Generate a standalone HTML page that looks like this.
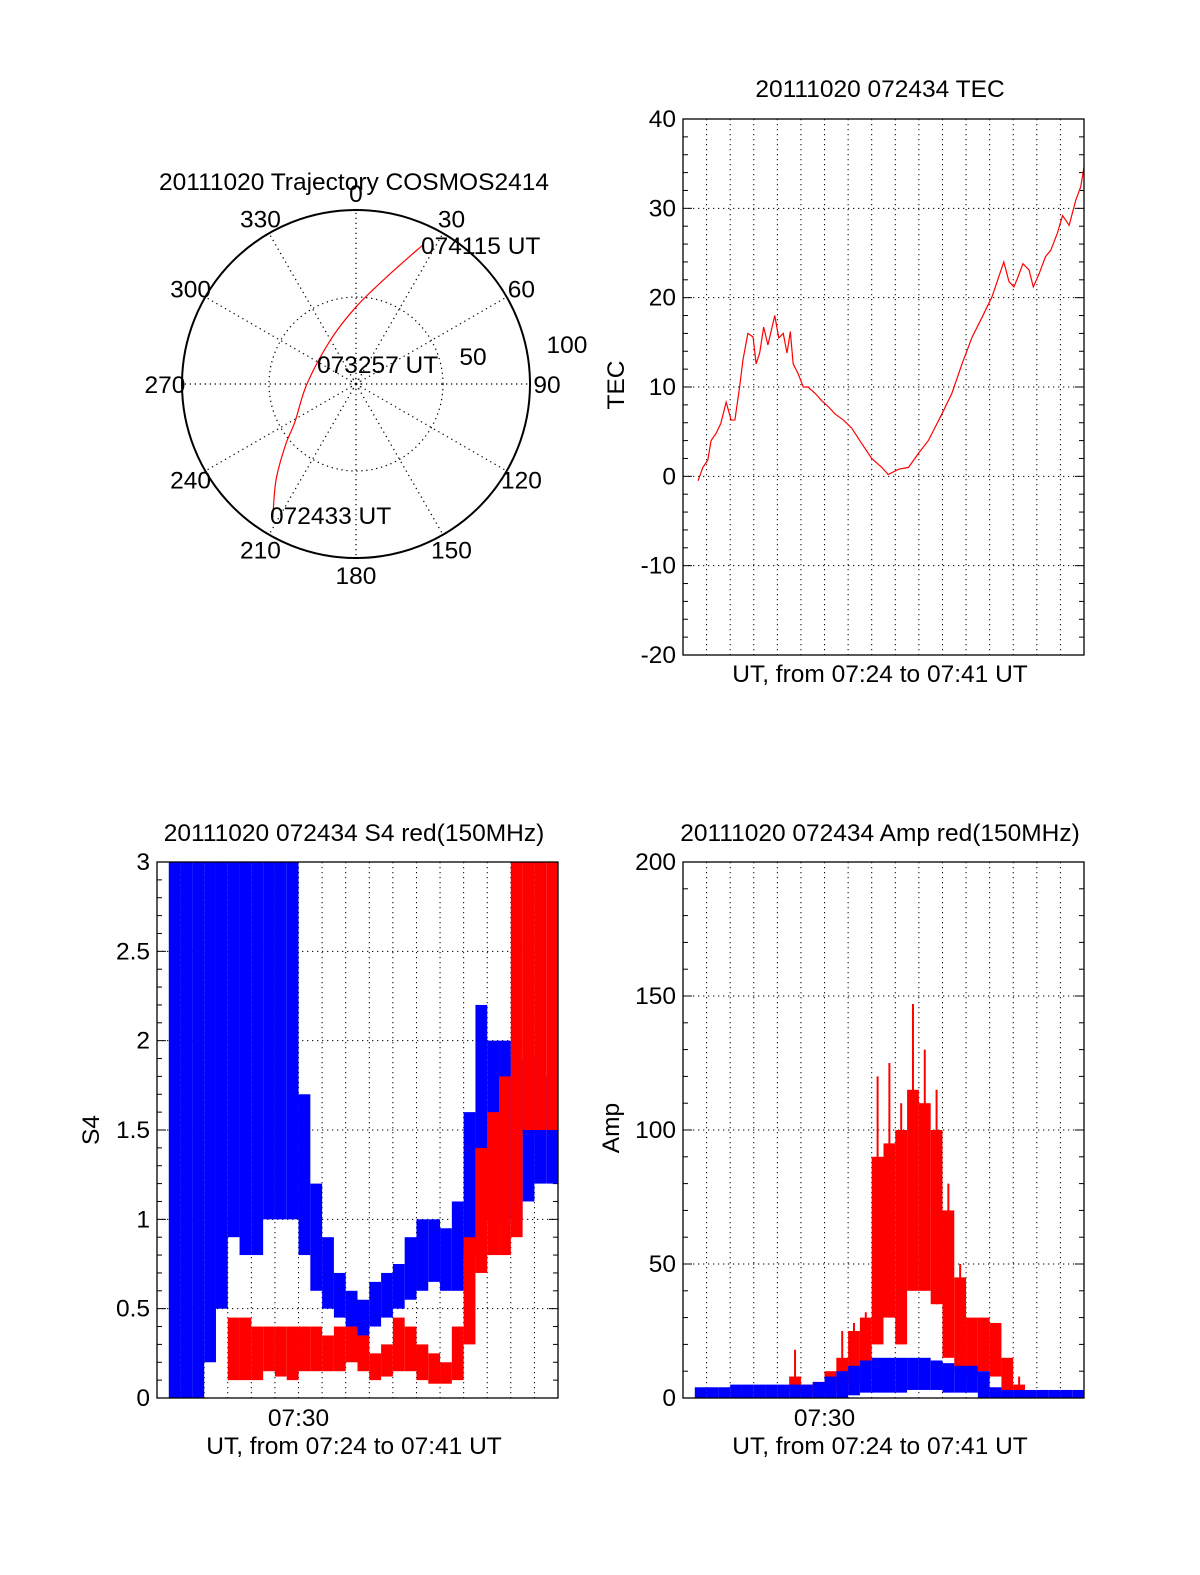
<!DOCTYPE html>
<html><head><meta charset="utf-8"><style>
html,body{margin:0;padding:0;background:#fff;}
svg{display:block;font-family:"Liberation Sans",Arial,sans-serif;}
</style></head><body>
<svg id="fig" width="1200" height="1575" viewBox="0 0 1200 1575" xmlns="http://www.w3.org/2000/svg">
<rect x="0" y="0" width="1200" height="1575" fill="#fff"/>
</svg>
<script>
// ---------- DATA ----------
// Polar trajectory: azimuth (deg) and zenith-distance (0..100 scale)
const trajAz = [212, 219.8, 229, 238.3, 270, 329.4, 0, 16.8, 25.7];
const trajR  = [90.2, 71.8, 53.8, 41.2, 28.2, 29.1, 44.3, 65.5, 88.7];
const polarAngles = [0,30,60,90,120,150,180,210,240,270,300,330];

// TEC series: time (minutes after 07:00) and TEC value
const tecTime = [24.64,24.84,25.05,25.19,25.4,25.6,25.83,26.04,26.2,26.4,26.54,26.75,26.97,27.1,27.25,27.42,27.6,27.89,28.06,28.25,28.41,28.55,28.67,28.88,29.1,29.3,29.6,29.87,30.16,30.44,30.8,31.15,31.57,32.0,32.43,32.7,33.14,33.56,33.99,34.4,34.98,35.4,35.83,36.26,36.68,37.1,37.6,37.82,38.03,38.2,38.41,38.67,38.85,39.1,39.37,39.59,39.87,40.09,40.37,40.65,40.86,41.0];
const tecVal  = [-0.5,1.0,1.8,4.0,4.8,5.9,8.3,6.3,6.3,10.0,13.0,16.0,15.6,12.6,13.8,16.7,14.7,18.0,15.5,16.0,13.8,16.2,12.6,11.5,10.0,10.0,9.3,8.5,7.8,7.0,6.3,5.4,3.7,2.0,1.0,0.2,0.8,1.0,2.6,4.0,7.0,9.3,12.6,15.6,17.8,20.1,24.0,21.8,21.2,22.3,23.8,23.1,21.2,22.7,24.6,25.3,27.2,29.2,28.1,30.9,32.4,34.6];
const tecTicks = [40,30,20,10,0,-10,-20];

// S4 binned envelopes (bin start times, 0.5 min bins)
const s4BinStart = [24.5,25,25.5,26,26.5,27,27.5,28,28.5,29,29.5,30,30.5,31,31.5,32,32.5,33,33.5,34,34.5,35,35.5,36,36.5,37,37.5,38,38.5,39,39.5,40,40.5];
const s4BlueLo = [0,0,0,0.2,0.5,0.9,0.8,0.8,1.0,1.0,1.0,0.8,0.6,0.5,0.45,0.38,0.35,0.4,0.45,0.5,0.55,0.6,0.65,0.6,0.6,0.8,1.0,1.0,1.0,1.0,1.1,1.2,1.2];
const s4BlueHi = [3,3,3,3,3,3,3,3,3,3,3,1.7,1.2,0.9,0.7,0.6,0.55,0.65,0.7,0.75,0.9,1.0,1.0,0.95,1.1,1.6,2.2,2.0,2.0,1.9,1.9,1.8,1.8];
const s4RedLo  = [null,null,null,null,null,0.1,0.1,0.1,0.15,0.12,0.1,0.15,0.15,0.15,0.15,0.2,0.15,0.1,0.12,0.15,0.15,0.1,0.08,0.08,0.1,0.3,0.7,0.8,0.8,0.9,1.5,1.5,1.5];
const s4RedHi  = [null,null,null,null,null,0.45,0.45,0.4,0.4,0.4,0.4,0.4,0.4,0.35,0.4,0.4,0.35,0.25,0.3,0.45,0.4,0.3,0.25,0.2,0.4,0.9,1.4,1.6,1.8,3,3,3,3];
const s4Ticks = [3,2.5,2,1.5,1,0.5,0];
const s4TickLabels = ["3","2.5","2","1.5","1","0.5","0"];

// Amp binned envelopes
const ampBinStart = [24.5,25,25.5,26,26.5,27,27.5,28,28.5,29,29.5,30,30.5,31,31.5,32,32.5,33,33.5,34,34.5,35,35.5,36,36.5,37,37.5,38,38.5,39,39.5,40,40.5];
const ampBlueLo = [0,0,0,0,0,0,0,0,0,0,0,0,0,1,2,2,2,2,3,3,3,2,2,2,0,0,0,0,0,0,0,0,0];
const ampBlueHi = [4,4,4,5,5,5,5,5,5,5,6,8,10,12,14,15,15,15,15,15,14,13,12,12,10,4,3,3,3,3,3,3,3];
const ampRedLo  = [null,null,null,null,null,null,null,null,2,1,1,2,3,5,8,20,30,20,40,40,35,15,10,8,10,8,2,0,null,null,null,null,null];
const ampRedHi  = [null,null,null,null,null,null,null,null,8,5,6,10,15,25,30,90,95,100,115,110,100,70,45,30,30,28,15,5,null,null,null,null,null];
const ampRedPeak= [null,null,null,null,null,null,null,null,18,null,null,null,25,28,32,120,125,110,147,130,115,80,50,null,null,null,null,8,null,null,null,null,null];
const ampTicks = [200,150,100,50,0];

// ---------- HELPERS ----------
const NS = "http://www.w3.org/2000/svg";
const svg = document.getElementById("fig");
const FS = 24.5;
function mk(tag, attrs, parent){ const e=document.createElementNS(NS,tag); for(const k in attrs) e.setAttribute(k,attrs[k]); (parent||svg).appendChild(e); return e; }
function txt(s,x,y,anchor,parent,size){ const t=mk("text",{x:x,y:y,"text-anchor":anchor||"middle","font-size":size||FS,fill:"#000"},parent); t.textContent=s; return t; }
const DOT = "1.3,3.7";

function makePanel(name, x0, x1, y0, y1, vmin, vmax, tmin, tmax){
  const g = mk("g",{});
  
  
  const X = t => x0 + (t - tmin) / (tmax - tmin) * (x1 - x0);
  const Y = v => y1 - (v - vmin) / (vmax - vmin) * (y1 - y0);
  return {g, X, Y, x0, x1, y0, y1};
}
function drawFrame(p, yticks, minorStep, vmin, vmax, labels, gridMins){
  gridMins.forEach(m=>{
    const l = mk("line",{x1:p.X(m),x2:p.X(m),y1:p.y0,y2:p.y1,stroke:"#000","stroke-width":1,"stroke-dasharray":DOT},p.g);
    
    
  });
  yticks.forEach((v,i)=>{
    const y=p.Y(v);
    if(v!==vmin && v!==vmax){
      const l = mk("line",{x1:p.x0,x2:p.x1,y1:y,y2:y,stroke:"#000","stroke-width":1,"stroke-dasharray":DOT},p.g);
      
      
    }
    const t = txt(labels[i], p.x0-7, y+8, "end", p.g);
    
    
  });
  for(let v=vmin; v<=vmax+1e-9; v+=minorStep){
    const y=p.Y(v);
    const isMajor = yticks.some(m=>Math.abs(m-v)<1e-6);
    const len = isMajor?9:5;
    mk("line",{x1:p.x0,x2:p.x0+len,y1:y,y2:y,stroke:"#000","stroke-width":1},p.g);
    mk("line",{x1:p.x1,x2:p.x1-len,y1:y,y2:y,stroke:"#000","stroke-width":1},p.g);
  }
}
function drawBox(p){
  const r = mk("rect",{x:p.x0,y:p.y0,width:p.x1-p.x0,height:p.y1-p.y0,fill:"none",stroke:"#000","stroke-width":1.3},p.g);
  
  
}
const gridMins = [25,26,27,28,29,30,31,32,33,34,35,36,37,38,39,40];

// ---------- POLAR ----------
(function(){
  const cx=356, cy=384, R=174;
  const g=mk("g",{});
  
  
  const t0 = txt("20111020 Trajectory COSMOS2414",354,190,"middle",g);
  
  
  polarAngles.forEach(a=>{
    const rad=a*Math.PI/180;
    mk("line",{x1:cx,y1:cy,x2:cx+R*Math.sin(rad),y2:cy-R*Math.cos(rad),stroke:"#000","stroke-width":1.2,"stroke-dasharray":DOT},g);
    const lr=191;
    const lt = txt(String(a),cx+lr*Math.sin(rad),cy-lr*Math.cos(rad)+9,"middle",g);
    
    
  });
  mk("circle",{cx:cx,cy:cy,r:R*0.5,fill:"none",stroke:"#000","stroke-width":1.2,"stroke-dasharray":DOT},g);
  mk("circle",{cx:cx,cy:cy,r:5,fill:"none",stroke:"#000","stroke-width":0.8,"stroke-dasharray":"1,1.5"},g);
  const oc = mk("circle",{cx:cx,cy:cy,r:R,fill:"none",stroke:"#000","stroke-width":2},g);
  
  
  const l100=txt("100",567,353,"middle",g);  
  const l50=txt("50",473,365,"middle",g);  
  const pts = trajAz.map((a,i)=>{const rad=a*Math.PI/180, r=trajR[i]/100*R; return [cx+r*Math.sin(rad), cy-r*Math.cos(rad)];});
  let d="M"+pts[0][0]+","+pts[0][1];
  for(let i=0;i<pts.length-1;i++){
    const p0=pts[Math.max(0,i-1)],p1=pts[i],p2=pts[i+1],p3=pts[Math.min(pts.length-1,i+2)];
    const c1=[p1[0]+(p2[0]-p0[0])/6,p1[1]+(p2[1]-p0[1])/6], c2=[p2[0]-(p3[0]-p1[0])/6,p2[1]-(p3[1]-p1[1])/6];
    d+=" C"+c1+" "+c2+" "+p2;
  }
  const tr = mk("path",{d:d,fill:"none",stroke:"#f00","stroke-width":1.2},g);
  
  
  const a1=txt("074115 UT",421,254,"start",g);  
  const a2=txt("073257 UT",317,373,"start",g);  
  const a3=txt("072433 UT",270,524,"start",g);  
})();

// ---------- TEC ----------
(function(){
  const p = makePanel('tec-plot',683,1084,119,655,-20,40,24,41);
  drawFrame(p,tecTicks,2,-20,40,tecTicks.map(String),gridMins);
  const pts = tecTime.map((t,i)=>p.X(t)+","+p.Y(tecVal[i])).join(" ");
  const l = mk("polyline",{points:pts,fill:"none",stroke:"#f00","stroke-width":1.2},p.g);
  
  
  drawBox(p);
  const t=txt("20111020 072434 TEC",880,97,"middle",p.g);  
  const xl=txt("UT, from 07:24 to 07:41 UT",880,682,"middle",p.g);  
  const yl=txt("TEC",0,0,"middle",p.g); yl.setAttribute("transform","translate(624,385) rotate(-90)");
   
})();

function drawBands(p, starts, lo, hi, color, vmax, name){
  starts.forEach((t,i)=>{
    if(lo[i]===null || hi[i]===null) return;
    const x0=p.X(t), x1=p.X(t+0.5);
    const y0=p.Y(Math.min(hi[i],vmax)), y1=p.Y(lo[i]);
    const r=mk("rect",{x:x0,y:y0,width:x1-x0,height:Math.max(1,y1-y0),fill:color},p.g);
    
    
  });
}

// ---------- S4 ----------
(function(){
  const p = makePanel('s4-plot',157,558,862,1398,0,3,24,41);
  drawFrame(p,s4Ticks,0.1,0,3,s4TickLabels,gridMins);
  drawBands(p,s4BinStart,s4BlueLo,s4BlueHi,"#00f",3,'s4-blue-band');
  drawBands(p,s4BinStart,s4RedLo,s4RedHi,"#f00",3,'s4-red-band');
  drawBox(p);
  const t=txt("20111020 072434 S4 red(150MHz)",354,841,"middle",p.g);  
  const xt=txt("07:30",p.X(30),1426,"middle",p.g);  
  const xl=txt("UT, from 07:24 to 07:41 UT",354,1454,"middle",p.g);  
  const yl=txt("S4",0,0,"middle",p.g); yl.setAttribute("transform","translate(99,1130) rotate(-90)");
   
})();

// ---------- AMP ----------
(function(){
  const p = makePanel('amp-plot',683,1084,862,1398,0,200,24,41);
  drawFrame(p,ampTicks,10,0,200,ampTicks.map(String),gridMins);
  drawBands(p,ampBinStart,ampRedLo,ampRedHi,"#f00",200,'amp-red-band');
  ampBinStart.forEach((t,i)=>{
    if(ampRedPeak[i]===null) return;
    const x=p.X(t+0.25);
    const l=mk("line",{x1:x,x2:x,y1:p.Y(ampRedPeak[i]),y2:p.Y(ampRedLo[i]===null?0:ampRedLo[i]),stroke:"#f00","stroke-width":2},p.g);
    
    
  });
  drawBands(p,ampBinStart,ampBlueLo,ampBlueHi,"#00f",200,'amp-blue-band');
  drawBox(p);
  const t=txt("20111020 072434 Amp red(150MHz)",880,841,"middle",p.g);  
  const xt=txt("07:30",p.X(30),1426,"middle",p.g);  
  const xl=txt("UT, from 07:24 to 07:41 UT",880,1454,"middle",p.g);  
  const yl=txt("Amp",0,0,"middle",p.g); yl.setAttribute("transform","translate(619,1128) rotate(-90)");
   
})();
</script>
</body></html>
